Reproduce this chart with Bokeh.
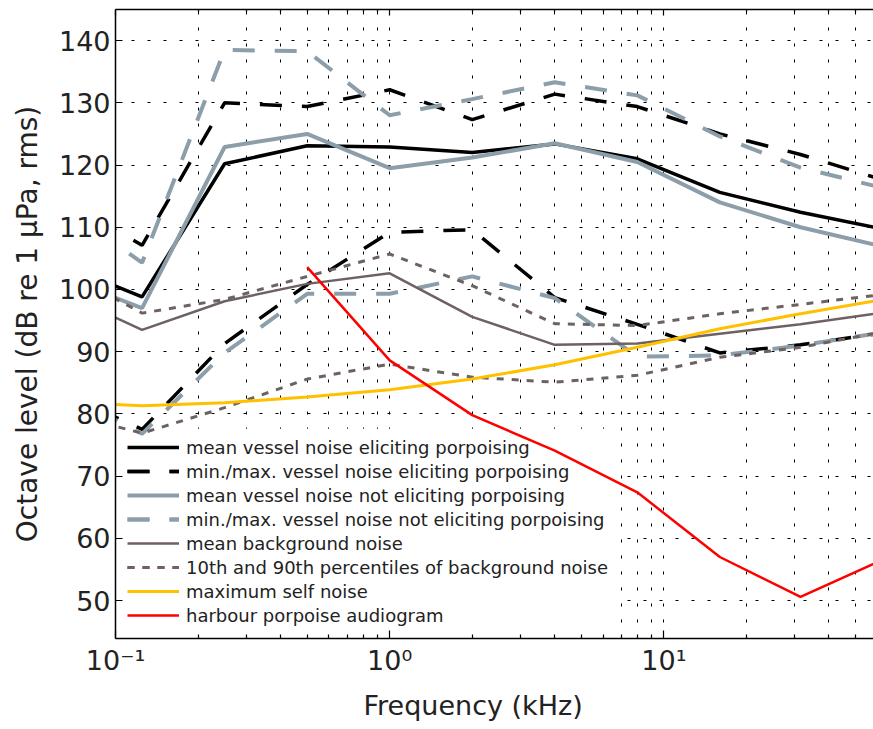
from bokeh.plotting import figure
from bokeh.models import LogAxis, FixedTicker, Legend, LegendItem, Range1d, Title, BoxAnnotation
from bokeh.embed import file_html
from bokeh.resources import INLINE

# Octave band centre frequencies (kHz)
freq = [0.063, 0.125, 0.25, 0.5, 1, 2, 4, 8, 16, 31.5, 63]

mean_elicit = [104.2, 98.8, 120.2, 123.1, 122.9, 122.0, 123.4, 121.0, 115.6, 112.4, 109.7]
max_elicit = [114.6, 107.1, 130.0, 129.4, 132.1, 127.3, 131.4, 129.4, 125.0, 121.7, 117.6]
min_elicit = [83.6, 77.5, 91.3, 100.8, 109.2, 109.6, 98.7, 94.4, 89.8, 91.1, 93.0]

mean_not = [102.1, 97.0, 122.9, 125.0, 119.5, 121.2, 123.5, 120.5, 114.0, 110.0, 106.9]
max_not = [113.5, 104.3, 138.5, 138.3, 128.0, 130.6, 133.3, 131.2, 124.6, 119.6, 116.3]
min_not = [83.6, 76.8, 89.8, 99.3, 99.3, 102.1, 98.6, 89.2, 89.4, 91.0, 93.1]

mean_bg = [99.6, 93.5, 98.1, 100.9, 102.6, 95.6, 91.1, 91.3, 92.9, 94.4, 96.3]
p90_bg = [103.3, 96.2, 98.4, 102.1, 105.7, 100.6, 94.5, 94.2, 96.1, 97.6, 99.2]
p10_bg = [80.3, 76.9, 81.0, 85.6, 88.0, 85.9, 85.1, 86.2, 89.1, 90.7, 93.2]

self_noise = [81.9, 81.3, 81.8, 82.7, 83.9, 85.6, 87.9, 90.7, 93.7, 96.1, 98.4]

audio_freq = [0.5, 1, 2, 4, 8, 16, 31.5, 63]
audiogram = [103.6, 88.6, 79.8, 74.1, 67.4, 57.0, 50.6, 56.6]

x_major = [0.1, 1, 10]
x_minor = [0.2, 0.3, 0.4, 0.5, 0.6, 0.7, 0.8, 0.9,
           2, 3, 4, 5, 6, 7, 8, 9,
           20, 30, 40, 50]
y_major = [50, 60, 70, 80, 90, 100, 110, 120, 130, 140]
x_labels = {0.1: "10⁻¹", 1: "10⁰", 10: "10¹"}
x_title = "Frequency (kHz)"
y_title = "Octave level (dB re 1 µPa, rms)"

labels = [
    "mean vessel noise eliciting porpoising",
    "min./max. vessel noise eliciting porpoising",
    "mean vessel noise not eliciting porpoising",
    "min./max. vessel noise not eliciting porpoising",
    "mean background noise",
    "10th and 90th percentiles of background noise",
    "maximum self noise",
    "harbour porpoise audiogram",
]

BLACK = "#000000"
GREY = "#8b9ea9"
BROWN = "#6e6161"
YELLOW = "#ffc000"
RED = "#ff0000"
TXT = "#222222"
FONT = "DejaVu Sans"

p = figure(width=873, height=729, x_axis_type="log",
           x_range=Range1d(0.1, 58.15), y_range=Range1d(43.9, 145.0),
           output_backend="svg", toolbar_location=None,
           min_border_left=115, min_border_right=0,
           min_border_top=9, min_border_bottom=91)
p.outline_line_color = None
p.background_fill_color = "white"
p.border_fill_color = "white"

xt = FixedTicker(ticks=x_major, minor_ticks=x_minor)
yt = FixedTicker(ticks=y_major)

xa = p.xaxis[0]
xa.ticker = xt
xa.major_label_overrides = x_labels
xa.major_label_text_font = FONT
xa.major_label_text_font_size = "27px"
xa.major_label_text_color = TXT
xa.major_label_standoff = 6
xa.major_tick_in = 8
xa.major_tick_out = 0
xa.minor_tick_in = 4
xa.minor_tick_out = 0
xa.axis_line_width = 1.5
xa.major_tick_line_width = 1.2
xa.minor_tick_line_width = 1.2

ya = p.yaxis[0]
ya.ticker = yt
ya.major_label_text_font = FONT
ya.major_label_text_font_size = "27px"
ya.major_label_text_color = TXT
ya.major_label_standoff = 5
ya.major_tick_in = 7
ya.major_tick_out = 0
ya.minor_tick_line_color = None
ya.axis_line_width = 1.5
ya.major_tick_line_width = 1.2
ya.axis_label = y_title
ya.axis_label_text_font = FONT
ya.axis_label_text_font_size = "28px"
ya.axis_label_text_font_style = "normal"
ya.axis_label_text_color = TXT
ya.axis_label_standoff = 12

top = LogAxis(ticker=xt, major_label_text_font_size="1px", major_label_text_alpha=0,
              major_label_standoff=0,
              major_tick_in=6, major_tick_out=0, minor_tick_in=3, minor_tick_out=0,
              axis_line_width=1.5, major_tick_line_width=1.2, minor_tick_line_width=1.2)
p.add_layout(top, "above")

p.add_layout(Title(text=x_title, align="left", offset=248, standoff=18,
                   text_font=FONT, text_font_size="27px", text_font_style="normal",
                   text_color=TXT), "below")

for g in (p.xgrid[0], p.ygrid[0]):
    g.grid_line_color = BLACK
    g.grid_line_width = 1
    g.grid_line_dash = "3 13"
p.xgrid[0].ticker = xt
p.ygrid[0].ticker = yt
p.xgrid[0].minor_grid_line_color = BLACK
p.xgrid[0].minor_grid_line_width = 1
p.xgrid[0].minor_grid_line_dash = "3 13"

# white panel behind the legend, hiding the grid but not the curves
p.add_layout(BoxAnnotation(left=0.1, right=6.84, bottom=43.9, top=77.6,
                           fill_color="white", fill_alpha=1.0, line_color=None,
                           level="underlay"))

DASH = "22 20"
DOT = "7 8"

r1 = p.line(freq, mean_elicit, line_color=BLACK, line_width=3.5)
r2a = p.line(freq, max_elicit, line_color=BLACK, line_width=3.5, line_dash=DASH)
r2b = p.line(freq, min_elicit, line_color=BLACK, line_width=3.5, line_dash=DASH)
r3 = p.line(freq, mean_not, line_color=GREY, line_width=4)
r4a = p.line(freq, max_not, line_color=GREY, line_width=4, line_dash=DASH)
r4b = p.line(freq, min_not, line_color=GREY, line_width=4, line_dash=DASH)
r5 = p.line(freq, mean_bg, line_color=BROWN, line_width=2.5)
r6a = p.line(freq, p90_bg, line_color=BROWN, line_width=3, line_dash=DOT)
r6b = p.line(freq, p10_bg, line_color=BROWN, line_width=3, line_dash=DOT)
r7 = p.line(freq, self_noise, line_color=YELLOW, line_width=3)
r8 = p.line(audio_freq, audiogram, line_color=RED, line_width=2.5)

items = [
    LegendItem(label=labels[0], renderers=[r1]),
    LegendItem(label=labels[1], renderers=[r2a, r2b]),
    LegendItem(label=labels[2], renderers=[r3]),
    LegendItem(label=labels[3], renderers=[r4a, r4b]),
    LegendItem(label=labels[4], renderers=[r5]),
    LegendItem(label=labels[5], renderers=[r6a, r6b]),
    LegendItem(label=labels[6], renderers=[r7]),
    LegendItem(label=labels[7], renderers=[r8]),
]
leg = Legend(items=items, location=(12, 11), padding=8, margin=0, spacing=0,
             glyph_width=52, glyph_height=24, label_height=24, label_standoff=7,
             label_text_font=FONT, label_text_font_size="18px", label_text_color=TXT,
             border_line_color=None, background_fill_alpha=0.0)
p.add_layout(leg)

open("out.html", "w").write(file_html(p, INLINE))
